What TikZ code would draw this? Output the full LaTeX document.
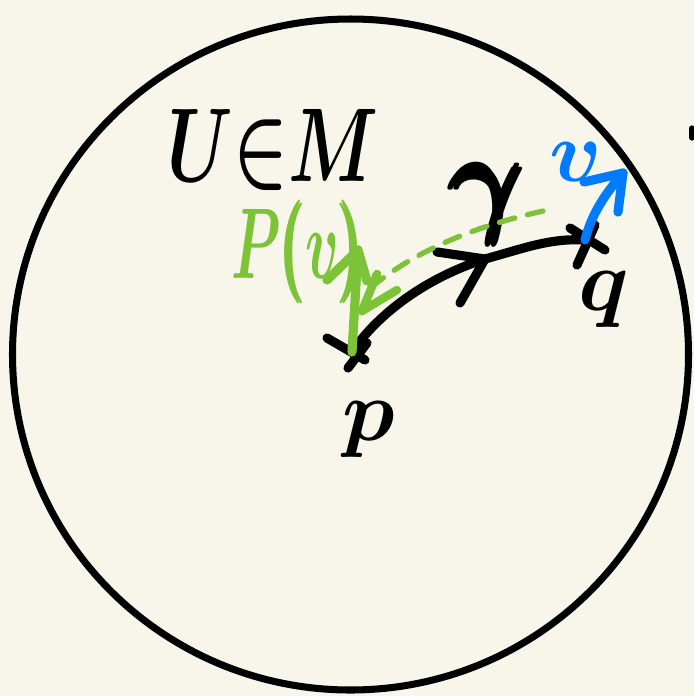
\documentclass[tikz,border=0pt]{standalone}
\usepackage{amsmath}
\usepackage{graphicx}
\usetikzlibrary{calc}
\definecolor{bg}{RGB}{248,246,234}
\definecolor{pgreen}{RGB}{125,195,55}
\definecolor{vblue}{RGB}{0,122,255}
\begin{document}
\boldmath
\begin{tikzpicture}[x=0.01cm,y=-0.01cm,
  ink/.style={line width=2.6pt, line cap=round, line join=round},
  lbl/.style={inner sep=0pt, outer sep=0pt}]
\fill[bg] (0,0) rectangle (694,696);
\useasboundingbox (0,0) rectangle (694,696);
% the set U
\draw[line width=2pt] (350.5,354.5) ellipse [x radius=338, y radius=335.5];
% points
\coordinate (p) at (352,352);
\coordinate (q) at (585,240);
\coordinate (gtip) at (485,259);
\coordinate (ptip) at (358,250);
\coordinate (vtip) at (623,173);
\coordinate (dstart) at (543,211);
\coordinate (dend) at (374,285);
\coordinate (dtip) at (362,311);
\coordinate (mark) at (692,128);
% labels
\node[lbl] (U) at (273,150) {\fontsize{40}{46}\selectfont\scalebox{0.82}[1.2]{$U{\in}M$}};
\node[lbl] (gam) at (490,204) {\fontsize{44}{48}\selectfont\scalebox{1.3}[1.4]{$\pmb{\gamma}$}};
\node[lbl] (plbl) at (369,430) {\fontsize{31}{36}\selectfont$p$};
\node[lbl] (qlbl) at (604,300) {\fontsize{31}{36}\selectfont$q$};
\node[lbl, text=vblue] (vlbl) at (576,162) {\fontsize{26}{30}\selectfont$v$};
\node[lbl, text=pgreen] (Pv) at (298,252) {\fontsize{23}{26}\selectfont\scalebox{0.64}[1.15]{$P\pmb{(}v\pmb{)}$}};
% crosses at p and q
\draw[ink] ($(p)+(-25,-14)$) -- ($(p)+(13,8)$);
\draw[ink] ($(p)+(15,-9)$) -- ($(p)+(-4,16)$);
\draw[ink] ($(q)+(-15,-12)$) -- ($(q)+(20,10)$);
\draw[ink] ($(q)+(10,-15)$) -- ($(q)+(-8,25)$);
% the curve gamma
\draw[ink] (p) .. controls (375,318) and (420,280) .. (gtip)
           .. controls (525,248) and (550,238) .. (q);
\draw[ink] (437,252) -- (gtip) -- (460,303);
% green dashed transport
\draw[pgreen, line width=1.5pt, line cap=round, dash pattern=on 0.16cm off 0.13cm]
  (dstart) .. controls (480,225) and (420,248) .. (dend);
\draw[pgreen, line width=2.4pt, line cap=round, line join=round]
  (377,274) -- (dtip) -- (397,290);
% green vector P(v)
\draw[ink, pgreen] (p) -- (ptip);
\draw[ink, pgreen] (327,280) -- (ptip) -- (367,281);
% blue vector v
\draw[ink, vblue] (q) .. controls (592,212) and (607,192) .. (vtip);
\draw[ink, vblue] (584,182) -- (vtip) -- (618,212);
% stray mark at the edge
\draw[line width=1.5pt, line cap=round] (mark) -- (692,138);
\end{tikzpicture}
\end{document}
